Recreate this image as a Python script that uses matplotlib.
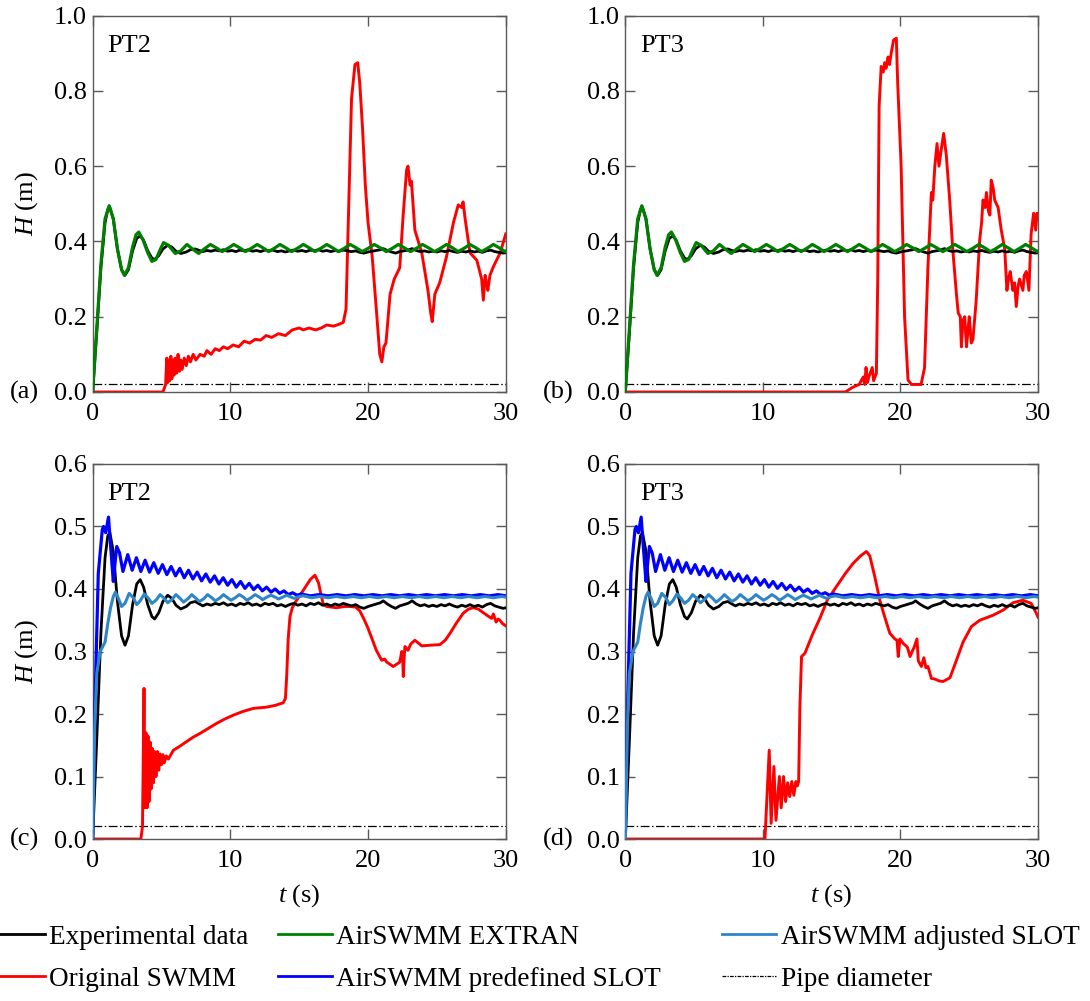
import numpy as np
import matplotlib.pyplot as plt
from matplotlib.lines import Line2D

plt.rcParams["font.family"] = ["Liberation Serif", "DejaVu Serif"]
plt.rcParams["mathtext.fontset"] = "custom"
plt.rcParams["mathtext.rm"] = "Liberation Serif"
plt.rcParams["mathtext.it"] = "Liberation Serif:italic"

FS = 19
FS_LEG = 19.6
PIPE_D = 0.021

# measured head, shared by both gauges (t [s], H [m])
exp_data = [
    (0, 0), (0.3, 0.16), (0.6, 0.33), (0.9, 0.45), (1.1, 0.485), (1.25, 0.49), (1.5, 0.46),
    (1.8, 0.38), (2.1, 0.325), (2.35, 0.31), (2.6, 0.325), (2.9, 0.375), (3.2, 0.408),
    (3.45, 0.415), (3.7, 0.403), (4.0, 0.375), (4.3, 0.356), (4.5, 0.352), (4.8, 0.362),
    (5.1, 0.38), (5.45, 0.39), (5.75, 0.385), (6.05, 0.374), (6.4, 0.368), (6.8, 0.372),
    (7.1, 0.378), (7.45, 0.38), (7.75, 0.376), (8.0, 0.373), (8.3, 0.376), (8.6, 0.374),
    (8.9, 0.377), (9.2, 0.375), (9.5, 0.378), (9.8, 0.374), (10.1, 0.376), (10.4, 0.373),
    (10.7, 0.377), (11.0, 0.375), (11.3, 0.378), (11.6, 0.374), (11.9, 0.376), (12.2, 0.373),
    (12.5, 0.377), (12.8, 0.375), (13.1, 0.377), (13.4, 0.373), (13.7, 0.375), (14.0, 0.372),
    (14.3, 0.375), (14.6, 0.377), (14.9, 0.374), (15.2, 0.376), (15.5, 0.373), (15.8, 0.377),
    (16.1, 0.375), (16.4, 0.378), (16.7, 0.374), (17.0, 0.376), (17.3, 0.373), (17.6, 0.376),
    (17.9, 0.374), (18.2, 0.377), (18.5, 0.375), (18.8, 0.373), (19.1, 0.375), (19.4, 0.371),
    (19.7, 0.369), (20.0, 0.372), (20.3, 0.374), (20.6, 0.376), (20.9, 0.378), (21.1, 0.381),
    (21.4, 0.376), (21.7, 0.372), (22.0, 0.369), (22.3, 0.373), (22.6, 0.375), (22.9, 0.377),
    (23.2, 0.381), (23.5, 0.376), (23.8, 0.373), (24.1, 0.375), (24.4, 0.372), (24.7, 0.374),
    (25.0, 0.372), (25.3, 0.375), (25.6, 0.373), (25.9, 0.376), (26.2, 0.373), (26.5, 0.371),
    (26.8, 0.374), (27.1, 0.372), (27.4, 0.375), (27.7, 0.372), (28.0, 0.374), (28.3, 0.371),
    (28.6, 0.375), (28.9, 0.377), (29.2, 0.373), (29.5, 0.371), (29.8, 0.369), (30.0, 0.37),
]

extran = [
    (0, 0), (0.3, 0.17), (0.6, 0.34), (0.9, 0.46), (1.2, 0.495), (1.5, 0.46), (1.8, 0.38),
    (2.1, 0.325), (2.3, 0.31), (2.6, 0.33), (2.9, 0.385), (3.15, 0.418), (3.35, 0.425),
    (3.65, 0.405), (4.0, 0.37), (4.3, 0.347), (4.6, 0.352), (4.9, 0.378), (5.15, 0.397),
    (5.5, 0.39), (6.0, 0.368), (6.4, 0.375), (6.85, 0.392), (7.25, 0.38), (7.7, 0.368),
    (8.1, 0.38), (8.55, 0.392), (8.98, 0.383), (9.4, 0.373), (9.83, 0.382), (10.25, 0.392),
    (10.68, 0.383), (11.1, 0.373), (11.53, 0.382), (11.95, 0.392), (12.37, 0.383), (12.78, 0.373),
    (13.2, 0.382), (13.6, 0.392), (14.03, 0.383), (14.45, 0.373), (14.88, 0.382), (15.3, 0.392),
    (15.73, 0.383), (16.15, 0.373), (16.58, 0.382), (17.0, 0.392), (17.43, 0.383), (17.85, 0.373),
    (18.28, 0.382), (18.7, 0.392), (19.14, 0.383), (19.58, 0.373), (20.02, 0.382), (20.45, 0.392),
    (20.89, 0.383), (21.33, 0.373), (21.77, 0.382), (22.2, 0.392), (22.64, 0.383), (23.08, 0.373),
    (23.52, 0.382), (23.95, 0.392), (24.39, 0.383), (24.83, 0.373), (25.27, 0.382), (25.7, 0.392),
    (26.13, 0.383), (26.55, 0.373), (26.98, 0.382), (27.4, 0.392), (27.83, 0.383), (28.25, 0.373),
    (28.68, 0.382), (29.1, 0.392), (29.53, 0.383), (29.95, 0.373), (30.0, 0.374),
]

slot_predef = [
    (0, 0), (0.17, 0.22), (0.41, 0.425), (0.7, 0.495), (0.8, 0.5), (0.95, 0.49), (1.15, 0.515),
    (1.3, 0.47), (1.5, 0.412), (1.62, 0.44), (1.75, 0.468), (1.95, 0.458), (2.2, 0.428),
    (2.55, 0.455), (2.87, 0.430), (3.18, 0.450), (3.50, 0.428), (3.81, 0.446), (4.13, 0.427),
    (4.44, 0.442), (4.76, 0.425), (5.07, 0.439), (5.39, 0.423), (5.70, 0.436), (6.02, 0.421),
    (6.33, 0.433), (6.65, 0.418), (6.96, 0.430), (7.28, 0.416), (7.59, 0.427), (7.91, 0.413),
    (8.22, 0.424), (8.54, 0.411), (8.85, 0.421), (9.17, 0.408), (9.48, 0.418), (9.80, 0.406),
    (10.11, 0.415), (10.43, 0.403), (10.74, 0.412), (11.06, 0.401), (11.37, 0.409), (11.69, 0.399),
    (12.00, 0.406), (12.32, 0.397), (12.63, 0.403), (12.95, 0.395), (13.26, 0.400), (13.58, 0.393),
    (13.89, 0.397), (14.21, 0.391), (14.52, 0.394), (14.84, 0.390), (15.15, 0.392), (15.8, 0.389),
    (16.45, 0.391), (17.1, 0.389), (17.75, 0.391), (18.4, 0.389), (19.05, 0.391), (19.7, 0.389),
    (20.35, 0.391), (21.0, 0.389), (21.65, 0.391), (22.3, 0.389), (22.95, 0.391), (23.6, 0.389),
    (24.25, 0.391), (24.9, 0.389), (25.55, 0.391), (26.2, 0.389), (26.85, 0.391), (27.5, 0.389),
    (28.15, 0.391), (28.8, 0.389), (29.45, 0.391), (30.0, 0.389),
]

slot_adjust = [
    (0, 0), (0.15, 0.18), (0.3, 0.265), (0.55, 0.3), (0.9, 0.315), (1.1, 0.345), (1.3, 0.37),
    (1.5, 0.388), (1.65, 0.395), (1.85, 0.386), (2.1, 0.372), (2.35, 0.377), (2.65, 0.393),
    (2.95, 0.386), (3.2, 0.375), (3.45, 0.381), (3.75, 0.392), (4.05, 0.385), (4.3, 0.377),
    (4.6, 0.382), (4.9, 0.391), (5.2, 0.385), (5.45, 0.378), (5.75, 0.383), (6.05, 0.391),
    (6.35, 0.385), (6.6, 0.379), (6.9, 0.384), (7.2, 0.391), (7.5, 0.385), (7.75, 0.38),
    (8.05, 0.384), (8.35, 0.391), (8.65, 0.386), (8.9, 0.381), (9.2, 0.385), (9.5, 0.391),
    (9.8, 0.386), (10.05, 0.382), (10.35, 0.386), (10.65, 0.391), (10.95, 0.387), (11.2, 0.382),
    (11.5, 0.386), (11.8, 0.391), (12.1, 0.387), (12.35, 0.383), (12.65, 0.387), (12.95, 0.39),
    (13.25, 0.387), (13.5, 0.384), (13.8, 0.387), (14.1, 0.39), (14.4, 0.387), (14.65, 0.385),
    (15.0, 0.388), (15.3, 0.389), (15.9, 0.386), (16.5, 0.388), (17.1, 0.386), (17.7, 0.388),
    (18.3, 0.386), (18.9, 0.388), (19.5, 0.386), (20.1, 0.388), (20.7, 0.386), (21.3, 0.388),
    (21.9, 0.386), (22.5, 0.388), (23.1, 0.386), (23.7, 0.388), (24.3, 0.386), (24.9, 0.388),
    (25.5, 0.386), (26.1, 0.388), (26.7, 0.386), (27.3, 0.388), (27.9, 0.386), (28.5, 0.388),
    (29.1, 0.386), (29.7, 0.388), (30.0, 0.387),
]

# original SWMM, run with EXTRAN routing (top row) and slot (bottom row)
swmm_pt2_extran = [
    (0, 0), (5.1, 0.0), (5.3, 0.02), (5.38, 0.09), (5.45, 0.025), (5.52, 0.085), (5.6, 0.03),
    (5.68, 0.095), (5.75, 0.035), (5.85, 0.085), (5.92, 0.045), (6.0, 0.09), (6.1, 0.05),
    (6.2, 0.1), (6.3, 0.055), (6.4, 0.085), (6.5, 0.06), (6.65, 0.09), (6.8, 0.07), (6.95, 0.095),
    (7.1, 0.08), (7.3, 0.1), (7.5, 0.085), (7.8, 0.1), (8.1, 0.095), (8.3, 0.11), (8.6, 0.1),
    (8.9, 0.115), (9.2, 0.11), (9.5, 0.12), (9.8, 0.115), (10.2, 0.125), (10.6, 0.12),
    (11.0, 0.135), (11.4, 0.13), (11.8, 0.14), (12.2, 0.138), (12.6, 0.15), (13.0, 0.145),
    (13.5, 0.155), (14.0, 0.15), (14.5, 0.165), (15.0, 0.17), (15.3, 0.165), (15.7, 0.17),
    (16.2, 0.165), (16.6, 0.17), (17.0, 0.178), (17.5, 0.175), (17.9, 0.18), (18.2, 0.185),
    (18.4, 0.22), (18.6, 0.5), (18.8, 0.78), (19.05, 0.87), (19.25, 0.875), (19.4, 0.82),
    (19.6, 0.7), (19.8, 0.55), (20.0, 0.45), (20.3, 0.36), (20.6, 0.22), (20.85, 0.1),
    (21.0, 0.08), (21.15, 0.12), (21.3, 0.13), (21.6, 0.26), (21.9, 0.3), (22.3, 0.33),
    (22.55, 0.47), (22.8, 0.59), (22.9, 0.6), (23.05, 0.55), (23.15, 0.56), (23.4, 0.43),
    (23.9, 0.37), (24.35, 0.27), (24.55, 0.21), (24.66, 0.187), (24.85, 0.26), (25.2, 0.29),
    (25.7, 0.36), (26.2, 0.45), (26.55, 0.497), (26.8, 0.49), (26.9, 0.505), (27.05, 0.46),
    (27.4, 0.37), (27.9, 0.35), (28.25, 0.3), (28.37, 0.244), (28.5, 0.31), (28.6, 0.29),
    (28.7, 0.27), (28.85, 0.31), (29.1, 0.333), (29.6, 0.37), (30.0, 0.42),
]

swmm_pt3_extran = [
    (0, 0), (16.0, 0.0), (16.5, 0.012), (17.0, 0.02), (17.3, 0.04), (17.4, 0.02), (17.5, 0.065),
    (17.6, 0.025), (17.7, 0.04), (17.95, 0.065), (18.05, 0.03), (18.25, 0.05), (18.35, 0.3),
    (18.45, 0.76), (18.6, 0.865), (18.75, 0.85), (18.85, 0.875), (18.95, 0.86), (19.1, 0.89),
    (19.2, 0.87), (19.35, 0.905), (19.5, 0.935), (19.7, 0.94), (19.8, 0.82), (20.05, 0.6),
    (20.3, 0.2), (20.55, 0.032), (20.8, 0.02), (21.5, 0.02), (21.75, 0.064), (22.0, 0.333),
    (22.25, 0.53), (22.35, 0.51), (22.5, 0.6), (22.66, 0.66), (22.8, 0.6), (22.95, 0.64),
    (23.14, 0.687), (23.33, 0.63), (23.58, 0.51), (23.8, 0.38), (24.07, 0.26), (24.2, 0.21),
    (24.35, 0.2), (24.43, 0.12), (24.55, 0.19), (24.67, 0.2), (24.8, 0.12), (24.9, 0.16),
    (25.0, 0.2), (25.15, 0.13), (25.27, 0.14), (25.5, 0.24), (25.76, 0.404), (25.9, 0.45),
    (26.0, 0.51), (26.15, 0.49), (26.25, 0.53), (26.4, 0.48), (26.5, 0.47), (26.6, 0.563),
    (26.75, 0.54), (26.85, 0.51), (27.1, 0.49), (27.33, 0.43), (27.58, 0.38), (27.74, 0.27),
    (27.85, 0.3), (27.98, 0.32), (28.17, 0.27), (28.3, 0.29), (28.42, 0.227), (28.55, 0.28),
    (28.66, 0.3), (28.9, 0.27), (29.0, 0.31), (29.15, 0.32), (29.34, 0.27), (29.5, 0.42),
    (29.68, 0.475), (29.83, 0.43), (29.93, 0.475), (30.0, 0.46),
]

swmm_pt2_slot = [
    (0, 0), (3.5, 0.0), (3.62, 0.02), (3.73, 0.241), (3.8, 0.05), (3.87, 0.17), (3.95, 0.05),
    (4.02, 0.165), (4.1, 0.06), (4.18, 0.155), (4.25, 0.08), (4.33, 0.145), (4.42, 0.09),
    (4.5, 0.14), (4.6, 0.1), (4.7, 0.14), (4.8, 0.11), (4.9, 0.136), (5.0, 0.119), (5.1, 0.135),
    (5.2, 0.122), (5.35, 0.133), (5.5, 0.128), (5.86, 0.142), (6.3, 0.148), (6.83, 0.156),
    (7.3, 0.163), (7.8, 0.169), (8.4, 0.177), (9.0, 0.185), (9.6, 0.192), (10.2, 0.198),
    (10.9, 0.204), (11.67, 0.209), (12.63, 0.211), (13.3, 0.214), (13.84, 0.218), (14.0, 0.225),
    (14.09, 0.26), (14.2, 0.32), (14.33, 0.356), (14.5, 0.37), (14.69, 0.378), (15.3, 0.398),
    (15.8, 0.415), (16.14, 0.422), (16.4, 0.41), (16.6, 0.39), (16.75, 0.375), (17.0, 0.372),
    (17.7, 0.37), (18.3, 0.372), (18.69, 0.372), (19.1, 0.371), (19.4, 0.365), (19.7, 0.352),
    (20.0, 0.337), (20.6, 0.302), (20.99, 0.286), (21.2, 0.288), (21.36, 0.283), (21.83, 0.276),
    (22.3, 0.283), (22.45, 0.3), (22.52, 0.285), (22.56, 0.26), (22.62, 0.29), (22.68, 0.308),
    (22.9, 0.302), (23.1, 0.312), (23.4, 0.318), (23.9, 0.309), (24.5, 0.31), (25.22, 0.311),
    (25.6, 0.318), (25.95, 0.329), (26.4, 0.345), (26.9, 0.361), (27.3, 0.368), (27.64, 0.37),
    (28.0, 0.368), (28.37, 0.362), (28.7, 0.357), (28.97, 0.353), (29.1, 0.36), (29.3, 0.347),
    (29.45, 0.352), (29.57, 0.35), (29.75, 0.345), (30.0, 0.341),
]

swmm_pt3_slot = [
    (0, 0), (10.15, 0.0), (10.46, 0.142), (10.6, 0.025), (10.8, 0.116), (10.95, 0.03),
    (11.2, 0.1), (11.33, 0.05), (11.5, 0.1), (11.65, 0.06), (11.8, 0.09), (11.95, 0.068),
    (12.1, 0.092), (12.25, 0.07), (12.4, 0.092), (12.5, 0.085), (12.6, 0.092), (12.69, 0.212),
    (12.81, 0.292), (13.05, 0.297), (13.6, 0.327), (14.14, 0.353), (14.7, 0.383), (15.35, 0.404),
    (16.0, 0.425), (16.56, 0.441), (17.1, 0.453), (17.53, 0.46), (17.77, 0.453), (18.13, 0.42),
    (18.5, 0.382), (18.86, 0.355), (19.23, 0.329), (19.6, 0.32), (19.75, 0.318), (19.84, 0.292),
    (19.96, 0.32), (20.2, 0.313), (20.5, 0.307), (20.7, 0.292), (20.85, 0.3), (21.0, 0.307),
    (21.2, 0.32), (21.3, 0.285), (21.52, 0.276), (21.7, 0.29), (21.85, 0.274), (22.0, 0.276),
    (22.25, 0.257), (22.5, 0.256), (22.8, 0.253), (23.1, 0.252), (23.6, 0.258), (24.07, 0.286),
    (24.55, 0.315), (25.16, 0.34), (25.77, 0.35), (26.73, 0.358), (27.45, 0.366), (28.18, 0.378),
    (28.9, 0.382), (29.5, 0.377), (29.88, 0.361), (30.0, 0.355),
]

C_EXP = "black"
C_SWMM = "#ff0000"
C_EXTRAN = "#008000"
C_PREDEF = "#0000ff"
C_ADJ = "#2f86c6"
SPINE = "#5a5a5a"


def xy(pairs):
    arr = np.array(pairs, dtype=float)
    return arr[:, 0], arr[:, 1]


def style_axis(ax, ymax, ystep):
    ax.set_xlim(0, 30)
    ax.set_ylim(0, ymax)
    ax.set_xticks([0, 10, 20, 30])
    ax.set_yticks(np.arange(0, ymax + 1e-9, ystep))
    ax.yaxis.set_major_formatter(plt.FormatStrFormatter("%.1f"))
    ax.tick_params(direction="in", length=7, width=1, color=SPINE,
                   top=True, right=True, labelsize=FS)
    ax.tick_params(axis="y", pad=4)
    ax.tick_params(axis="x", pad=8)
    for sp in ax.spines.values():
        sp.set_color(SPINE)
        sp.set_linewidth(1.0)


fig = plt.figure(figsize=(10.9, 10.01), dpi=100)

panels = [
    ("(a)", "PT2", [0.085, 0.6084, 0.379, 0.376], 1.0, 0.2, "extran", swmm_pt2_extran),
    ("(b)", "PT3", [0.5737, 0.6084, 0.3786, 0.376], 1.0, 0.2, "extran", swmm_pt3_extran),
    ("(c)", "PT2", [0.085, 0.1618, 0.379, 0.3747], 0.6, 0.1, "slot", swmm_pt2_slot),
    ("(d)", "PT3", [0.5737, 0.1618, 0.3786, 0.3747], 0.6, 0.1, "slot", swmm_pt3_slot),
]

for i, (tag, gauge, rect, ymax, ystep, mode, swmm) in enumerate(panels):
    ax = fig.add_axes(rect)
    style_axis(ax, ymax, ystep)
    ax.axhline(PIPE_D, color="black", lw=0.9, ls=(0, (7, 2, 1.2, 2)), zorder=1)
    ax.plot(*xy(swmm), color=C_SWMM, lw=2.1, zorder=2)
    ax.plot(*xy(exp_data), color=C_EXP, lw=2.0, zorder=3)
    if mode == "extran":
        ax.plot(*xy(extran), color=C_EXTRAN, lw=2.3, zorder=4)
    else:
        ax.plot(*xy(slot_predef), color=C_PREDEF, lw=2.3, zorder=4)
        ax.plot(*xy(slot_adjust), color=C_ADJ, lw=2.2, zorder=5)

    ax.text(0.035, 0.92, gauge, transform=ax.transAxes, fontsize=FS, va="center", ha="left")
    ax.text(-0.2, 0.0, tag, transform=ax.transAxes, fontsize=FS, va="center", ha="left")
    if i % 2 == 0:
        ax.text(-0.16, 0.5, "$H$ (m)", transform=ax.transAxes, fontsize=FS,
                rotation=90, ha="center", va="center")
    if i >= 2:
        ax.text(0.5, -0.152, "$t$ (s)", transform=ax.transAxes, fontsize=FS,
                ha="center", va="center")

# legend, three columns placed by hand
entries = [
    ("Experimental data", C_EXP, "-"), ("Original SWMM", C_SWMM, "-"),
    ("AirSWMM EXTRAN", C_EXTRAN, "-"), ("AirSWMM predefined SLOT", C_PREDEF, "-"),
    ("AirSWMM adjusted SLOT", C_ADJ, "-"), ("Pipe diameter", "black", (0, (3, 1, 1, 1))),
]
col_x = [-0.009, 0.255, 0.6624]
for k, x0 in enumerate(col_x):
    pair = entries[2 * k:2 * k + 2]
    handles = [Line2D([], [], color=c, ls=ls, lw=(0.9 if lbl == "Pipe diameter" else 2.0))
               for lbl, c, ls in pair]
    fig.legend(handles, [p[0] for p in pair], loc="upper left", bbox_to_anchor=(x0, 0.076),
               frameon=False, fontsize=FS_LEG, handlelength=2.0, handletextpad=0.15,
               borderpad=0, borderaxespad=0, labelspacing=0.62)

fig.savefig("out.png", dpi=100)
